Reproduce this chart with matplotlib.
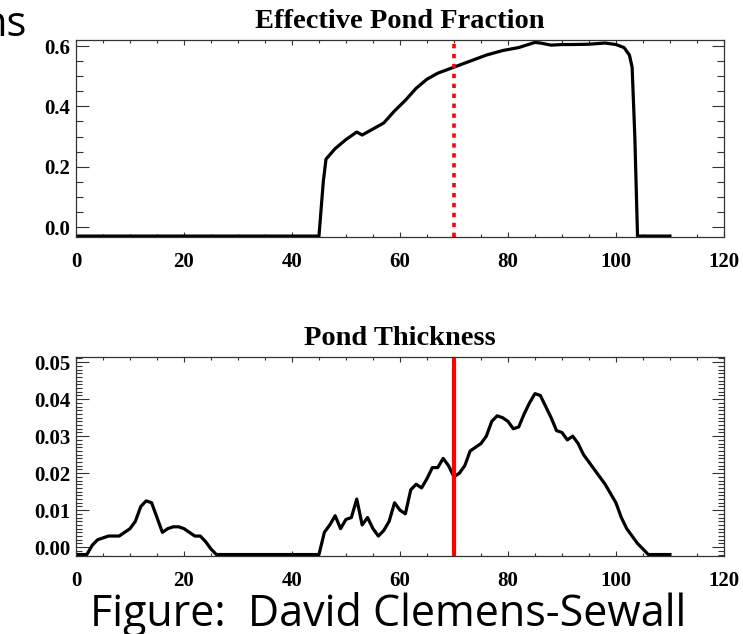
import matplotlib

matplotlib.use("Agg")
import matplotlib.pyplot as plt
from matplotlib.ticker import MultipleLocator

# effective pond fraction vs day
frac_x = [0, 10, 20, 30, 40, 45, 45.8, 46.3, 48, 50, 52, 53, 55, 57, 59, 61, 63, 65, 67,
          70, 73, 76, 79, 82, 85, 86, 88, 90, 92, 95, 98, 100, 101.5, 102.5, 103, 103.5,
          104, 107, 110]
frac_y = [-0.03, -0.03, -0.03, -0.03, -0.03, -0.03, 0.15, 0.225, 0.26, 0.29, 0.315, 0.305,
          0.325, 0.345, 0.385, 0.42, 0.46, 0.49, 0.51, 0.53, 0.55, 0.57, 0.585, 0.595,
          0.612, 0.61, 0.603, 0.605, 0.605, 0.606, 0.61, 0.605, 0.595, 0.57, 0.53, 0.3,
          -0.03, -0.03, -0.03]

# pond thickness vs day
thick_x = [0, 2, 3, 4, 6, 8, 10, 11, 12, 13, 14, 15, 16, 17, 18, 19, 20, 21, 22, 23, 24,
           25, 26, 35, 45, 46, 47, 48, 49, 50, 51, 52, 53, 54, 55, 56, 57, 58, 59, 60, 61,
           62, 63, 64, 65, 66, 67, 68, 69, 70, 71, 72, 73, 74, 75, 76, 77, 78, 79, 80, 81,
           82, 83, 84, 85, 86, 87, 88, 89, 90, 91, 92, 93, 94, 95, 96, 97, 98, 99, 100,
           101, 102, 103, 104, 105, 106, 108, 110]
thick_y = [-0.002, -0.002, 0.0005, 0.002, 0.003, 0.003, 0.005, 0.007, 0.011, 0.0125, 0.012,
           0.008, 0.004, 0.005, 0.0055, 0.0055, 0.005, 0.004, 0.003, 0.003, 0.0015, -0.0005,
           -0.002, -0.002, -0.002, 0.004, 0.006, 0.0085, 0.005, 0.0075, 0.008, 0.013, 0.006,
           0.008, 0.005, 0.003, 0.0045, 0.007, 0.012, 0.010, 0.009, 0.0155, 0.017, 0.016,
           0.0185, 0.0215, 0.0215, 0.024, 0.022, 0.019, 0.020, 0.022, 0.026, 0.027, 0.028,
           0.030, 0.034, 0.0355, 0.035, 0.034, 0.032, 0.0325, 0.036, 0.039, 0.0415, 0.041,
           0.038, 0.035, 0.0315, 0.031, 0.029, 0.030, 0.028, 0.025, 0.023, 0.021, 0.019,
           0.017, 0.0145, 0.012, 0.008, 0.005, 0.003, 0.001, -0.0005, -0.002, -0.002, -0.002]

current_day = 70

serif = ["Liberation Serif", "DejaVu Serif"]


def style_axes(ax, ymajor, yminor, ylim, fmt, yminor_len=5):
    ax.set_xlim(0, 120)
    ax.set_ylim(*ylim)
    ax.xaxis.set_major_locator(MultipleLocator(20))
    ax.xaxis.set_minor_locator(MultipleLocator(5))
    ax.yaxis.set_major_locator(MultipleLocator(ymajor))
    ax.yaxis.set_minor_locator(MultipleLocator(yminor))
    ax.tick_params(which="both", direction="in", top=True, right=True, width=0.8,
                   color="#333333")
    ax.tick_params(axis="x", which="major", length=3.8, pad=11)
    ax.tick_params(axis="x", which="minor", length=2.2)
    ax.tick_params(axis="y", which="major", length=9, pad=4)
    ax.tick_params(axis="y", which="minor", length=yminor_len)
    ax.yaxis.set_major_formatter(plt.FuncFormatter(lambda v, _: fmt.format(v)))
    for lab in ax.get_xticklabels() + ax.get_yticklabels():
        lab.set_fontfamily(serif)
        lab.set_fontweight("bold")
        lab.set_fontsize(15)
    for s in ax.spines.values():
        s.set_linewidth(0.9)
        s.set_color("#333333")


fig = plt.figure(figsize=(7.43, 6.34), dpi=100)

ax1 = fig.add_axes([0.1023, 0.6262, 0.872, 0.3107])
ax1.plot(frac_x, frac_y, color="black", lw=2.3, solid_joinstyle="round")
ax1.axvline(current_day, color="red", lw=2.6, linestyle=(0, (1.2, 1.55)))
style_axes(ax1, 0.2, 0.05, (-0.033, 0.62), "{:.1f}")
ax1.set_title("Effective Pond Fraction", fontfamily=serif, fontweight="bold",
              fontsize=20.5, pad=9)

ax2 = fig.add_axes([0.1023, 0.123, 0.872, 0.3139])
ax2.plot(thick_x, thick_y, color="black", lw=2.3, solid_joinstyle="round")
ax2.axvline(current_day, color="red", lw=3)
style_axes(ax2, 0.01, 0.001, (-0.0024, 0.0514), "{:.2f}", yminor_len=4.5)
ax2.set_title("Pond Thickness", fontfamily=serif, fontweight="bold",
              fontsize=20.5, pad=9)

fig.text(0.923, 0.0126, "Figure:  David Clemens-Sewall", fontfamily="Open Sans",
         fontsize=31, ha="right", va="baseline")
fig.text(0.0363, 0.9606, "ns", fontfamily="Open Sans", fontsize=30, ha="right",
         va="center")

fig.savefig("out.png", dpi=100)
